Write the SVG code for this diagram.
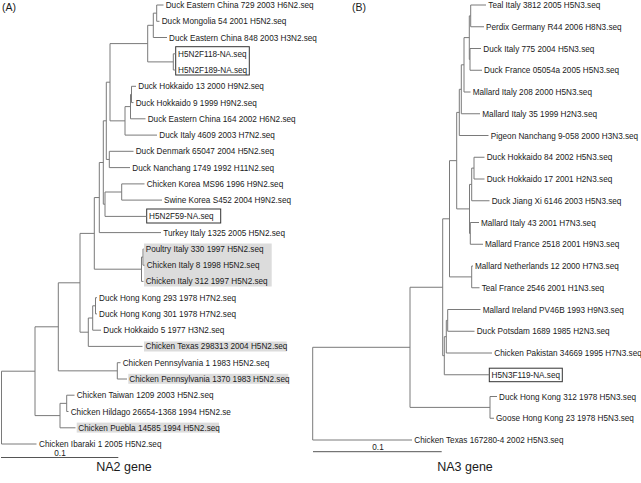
<svg xmlns="http://www.w3.org/2000/svg" width="641" height="483" viewBox="0 0 641 483">
<style>
text{font-family:"Liberation Sans",Arial,sans-serif;fill:#1a1a1a}
.lb{font-size:8.2px}
.ti{font-size:10.5px}
.gn{font-size:12.5px;text-anchor:middle}
.sc{font-size:8.2px;text-anchor:middle}
.br{fill:none;stroke:#7a7a7a;stroke-width:1}
.sb{fill:none;stroke:#555;stroke-width:1}
.hl{fill:#dcdcdc}
.bx{fill:#fff;stroke:#333;stroke-width:1}
</style>
<rect width="641" height="483" fill="#fff"/>
<g id="titles">
<text class="ti" x="2" y="11">(A)</text>
<text class="ti" x="352" y="11">(B)</text>
<text class="gn" x="124" y="471">NA2 gene</text>
<text class="gn" x="465" y="471">NA3 gene</text>
</g>
<g id="highlights">
<rect class="hl" x="144" y="243.5" width="127.7" height="43"/>
<rect class="hl" x="144" y="341.5" width="142.7" height="10"/>
<rect class="hl" x="128.3" y="373.8" width="160" height="10"/>
<rect class="hl" x="76.7" y="422.6" width="142.3" height="10"/>
</g>
<g id="boxes">
<rect class="bx" x="175.7" y="46.7" width="73.6" height="28.3"/>
<rect class="bx" x="146.7" y="209" width="74" height="14"/>
<rect class="bx" x="489.3" y="368.2" width="73" height="13.5"/>
</g>
<g id="connectors">
<path class="br" d="M163.5 5H156.7V21.3H159.5"/>
<path class="br" d="M156.7 13.15H153.3V37.5H167"/>
<path class="br" d="M175.7 53.8H173.3V70H175.7"/>
<path class="br" d="M153.3 25.3H147.7V61.9H173.3"/>
<path class="br" d="M136 86.3H131.5V102.6H133.5"/>
<path class="br" d="M131.5 94.45H130.5V118.8H145.5"/>
<path class="br" d="M130.5 106.6H125V135.1H157"/>
<path class="br" d="M147.7 43.6H110V120.85H125"/>
<path class="br" d="M133.5 151.3H109.3V167.6H130"/>
<path class="br" d="M110 82.2H106.3V159.45H109.3"/>
<path class="br" d="M144.5 183.9H121.7V200.1H162"/>
<path class="br" d="M121.7 192H105V216.4H146.7"/>
<path class="br" d="M106.3 120.8H103.3V204.2H105"/>
<path class="br" d="M103.3 162.5H99.3V232.6H161"/>
<path class="br" d="M143.5 248.9H143V265.2H144.5"/>
<path class="br" d="M143 257.05H141.5V281.4H143.5"/>
<path class="br" d="M99.3 197.55H94.3V269.2H141.5"/>
<path class="br" d="M97 297.7H95.5V313.9H97"/>
<path class="br" d="M95.5 305.8H92.7V330.2H101"/>
<path class="br" d="M92.7 318H88.3V346.4H142.5"/>
<path class="br" d="M94.3 233.4H80V332.2H88.3"/>
<path class="br" d="M120.5 362.7H117.3V379H127"/>
<path class="br" d="M80 282.8H58.3V370.85H117.3"/>
<path class="br" d="M74.5 395.2H66.7V411.5H68.5"/>
<path class="br" d="M66.7 403.35H60V427.8H75.5"/>
<path class="br" d="M58.3 326.8H35V415.6H60"/>
<path class="br" d="M35 371.2H1.5V444H36.5"/>
<path class="br" d="M486 5H470.7V26.75H484"/>
<path class="br" d="M481 48.5H470V70.25H482"/>
<path class="br" d="M470.7 15.875H469.3V59.375H470"/>
<path class="br" d="M469.3 37.6H464V92H470.5"/>
<path class="br" d="M464 64.8H461.3V113.75H480"/>
<path class="br" d="M461.3 89.3H459.3V135.5H488.5"/>
<path class="br" d="M484.5 157.25H474V179H484.5"/>
<path class="br" d="M474 168.1H471.7V200.75H489.5"/>
<path class="br" d="M479 222.5H470.3V244.25H483"/>
<path class="br" d="M471.7 184.4H469.5V233.4H470.3"/>
<path class="br" d="M459.3 112.4H456.7V208.9H469.5"/>
<path class="br" d="M473 266H471.7V287.75H479.5"/>
<path class="br" d="M456.7 160.65H449.5V276.9H471.7"/>
<path class="br" d="M480.5 309.5H447.7V331.25H474.5"/>
<path class="br" d="M447.7 320.4H446.3V353H492"/>
<path class="br" d="M446.3 336.7H444.3V374.75H489.3"/>
<path class="br" d="M449.5 218.8H442.7V355.7H444.3"/>
<path class="br" d="M497 396.5H490V418.25H494"/>
<path class="br" d="M442.7 287.25H410V407.4H490"/>
<path class="br" d="M410 347.3H312.7V440H412"/>
</g>
<g id="scalebars">
<path class="sb" d="M1 457.5H118.3"/>
<text class="sc" x="60" y="455.5">0.1</text>
<path class="sb" d="M313 451.7H441.7"/>
<text class="sc" x="378" y="450">0.1</text>
</g>
<g id="treeA">
<g id="a01"><text class="lb" x="165.7" y="8">Duck Eastern China 729 2003 H6N2.seq</text></g>
<g id="a02"><text class="lb" x="161.7" y="24.3">Duck Mongolia 54 2001 H5N2.seq</text></g>
<g id="a03"><text class="lb" x="169" y="40.5">Duck Eastern China 848 2003 H3N2.seq</text></g>
<g id="a04"><text class="lb" x="178" y="56.8">H5N2F118-NA.seq</text></g>
<g id="a05"><text class="lb" x="178" y="73">H5N2F189-NA.seq</text></g>
<g id="a06"><text class="lb" x="138.3" y="89.3">Duck Hokkaido 13 2000 H9N2.seq</text></g>
<g id="a07"><text class="lb" x="135.7" y="105.6">Duck Hokkaido 9 1999 H9N2.seq</text></g>
<g id="a08"><text class="lb" x="147.7" y="121.8">Duck Eastern China 164 2002 H6N2.seq</text></g>
<g id="a09"><text class="lb" x="159.3" y="138.1">Duck Italy 4609 2003 H7N2.seq</text></g>
<g id="a10"><text class="lb" x="135.7" y="154.3">Duck Denmark 65047 2004 H5N2.seq</text></g>
<g id="a11"><text class="lb" x="132.3" y="170.6">Duck Nanchang 1749 1992 H11N2.seq</text></g>
<g id="a12"><text class="lb" x="146.7" y="186.9">Chicken Korea MS96 1996 H9N2.seq</text></g>
<g id="a13"><text class="lb" x="164" y="203.1">Swine Korea S452 2004 H9N2.seq</text></g>
<g id="a14"><text class="lb" x="149" y="219.4">H5N2F59-NA.seq</text></g>
<g id="a15"><text class="lb" x="163.3" y="235.6">Turkey Italy 1325 2005 H5N2.seq</text></g>
<g id="a16"><text class="lb" x="145.7" y="251.9">Poultry Italy 330 1997 H5N2.seq</text></g>
<g id="a17"><text class="lb" x="146.7" y="268.2">Chicken Italy 8 1998 H5N2.seq</text></g>
<g id="a18"><text class="lb" x="145.7" y="284.4">Chicken Italy 312 1997 H5N2.seq</text></g>
<g id="a19"><text class="lb" x="99" y="300.7">Duck Hong Kong 293 1978 H7N2.seq</text></g>
<g id="a20"><text class="lb" x="99" y="316.9">Duck Hong Kong 301 1978 H7N2.seq</text></g>
<g id="a21"><text class="lb" x="103.3" y="333.2">Duck Hokkaido 5 1977 H3N2.seq</text></g>
<g id="a22"><text class="lb" x="145.5" y="349.4">Chicken Texas 298313 2004 H5N2.seq</text></g>
<g id="a23"><text class="lb" x="122.7" y="365.7">Chicken Pennsylvania 1 1983 H5N2.seq</text></g>
<g id="a24"><text class="lb" x="129.3" y="382">Chicken Pennsylvania 1370 1983 H5N2.seq</text></g>
<g id="a25"><text class="lb" x="76.7" y="398.2">Chicken Taiwan 1209 2003 H5N2.seq</text></g>
<g id="a26"><text class="lb" x="70.7" y="414.5">Chicken Hildago 26654-1368 1994 H5N2.se</text></g>
<g id="a27"><text class="lb" x="78.3" y="430.8">Chicken Puebla 14585 1994 H5N2.seq</text></g>
<g id="a28"><text class="lb" x="39" y="447">Chicken Ibaraki 1 2005 H5N2.seq</text></g>
</g>
<g id="treeB">
<g id="b01"><text class="lb" x="488.3" y="8">Teal Italy 3812 2005 H5N3.seq</text></g>
<g id="b02"><text class="lb" x="486" y="29.75">Perdix Germany R44 2006 H8N3.seq</text></g>
<g id="b03"><text class="lb" x="483.3" y="51.5">Duck Italy 775 2004 H5N3.seq</text></g>
<g id="b04"><text class="lb" x="484" y="73.25">Duck France 05054a 2005 H5N3.seq</text></g>
<g id="b05"><text class="lb" x="472.7" y="95">Mallard Italy 208 2000 H5N3.seq</text></g>
<g id="b06"><text class="lb" x="482.3" y="116.75">Mallard Italy 35 1999 H2N3.seq</text></g>
<g id="b07"><text class="lb" x="490.7" y="138.5">Pigeon Nanchang 9-058 2000 H3N3.seq</text></g>
<g id="b08"><text class="lb" x="486.7" y="160.25">Duck Hokkaido 84 2002 H5N3.seq</text></g>
<g id="b09"><text class="lb" x="486.7" y="182">Duck Hokkaido 17 2001 H2N3.seq</text></g>
<g id="b10"><text class="lb" x="491.7" y="203.75">Duck Jiang Xi 6146 2003 H5N3.seq</text></g>
<g id="b11"><text class="lb" x="481" y="225.5">Mallard Italy 43 2001 H7N3.seq</text></g>
<g id="b12"><text class="lb" x="485" y="247.25">Mallard France 2518 2001 H9N3.seq</text></g>
<g id="b13"><text class="lb" x="475" y="269">Mallard Netherlands 12 2000 H7N3.seq</text></g>
<g id="b14"><text class="lb" x="481.7" y="290.75">Teal France 2546 2001 H1N3.seq</text></g>
<g id="b15"><text class="lb" x="482.7" y="312.5">Mallard Ireland PV46B 1993 H9N3.seq</text></g>
<g id="b16"><text class="lb" x="476.7" y="334.25">Duck Potsdam 1689 1985 H2N3.seq</text></g>
<g id="b17"><text class="lb" x="494.3" y="356">Chicken Pakistan 34669 1995 H7N3.seq</text></g>
<g id="b18"><text class="lb" x="491.5" y="377.75">H5N3F119-NA.seq</text></g>
<g id="b19"><text class="lb" x="499" y="399.5">Duck Hong Kong 312 1978 H5N3.seq</text></g>
<g id="b20"><text class="lb" x="496" y="421.25">Goose Hong Kong 23 1978 H5N3.seq</text></g>
<g id="b21"><text class="lb" x="414.3" y="443">Chicken Texas 167280-4 2002 H5N3.seq</text></g>
</g>
</svg>
